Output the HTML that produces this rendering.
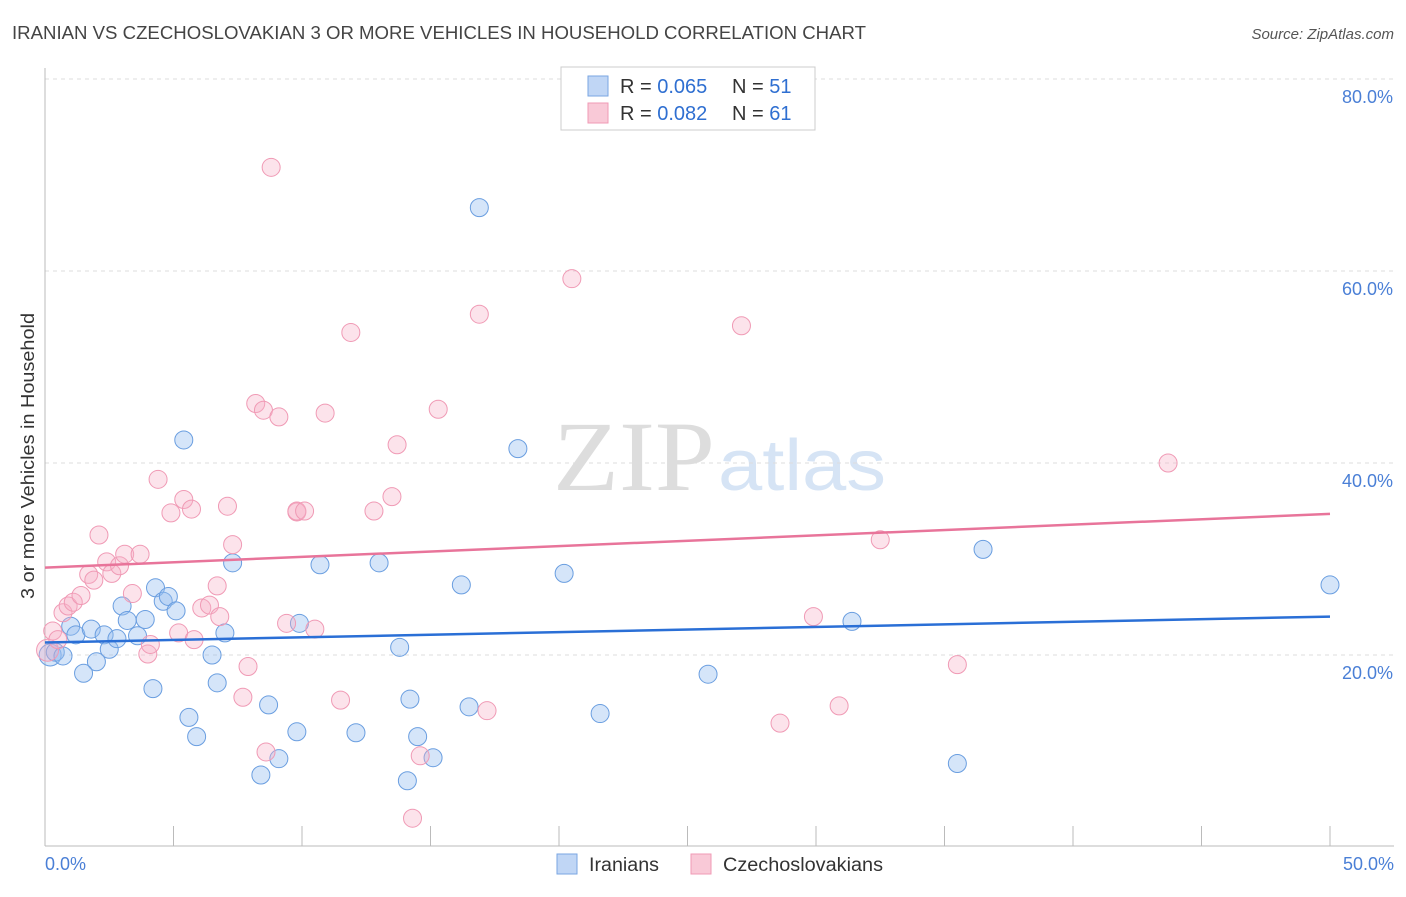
<!DOCTYPE html>
<html><head><meta charset="utf-8"><style>
body{margin:0;background:#fff;font-family:"Liberation Sans",sans-serif;}
svg text{font-family:"Liberation Sans",sans-serif;}
</style></head><body>
<svg id="c" width="1406" height="892" viewBox="0 0 1406 892">
<text x="12" y="39" font-size="18" fill="#444" textLength="854" lengthAdjust="spacingAndGlyphs">IRANIAN VS CZECHOSLOVAKIAN 3 OR MORE VEHICLES IN HOUSEHOLD CORRELATION CHART</text>
<text x="1394" y="39" font-size="15" fill="#555" font-style="italic" text-anchor="end">Source: ZipAtlas.com</text>
<text x="553" y="490" font-size="100" fill="#ddd" textLength="162" lengthAdjust="spacingAndGlyphs" style="font-family:'Liberation Serif',serif">ZIP</text>
<text x="718" y="490" font-size="72" fill="#d6e4f5" textLength="168" lengthAdjust="spacingAndGlyphs">atlas</text>
<g id="grid"></g>
<line x1="45" y1="68" x2="45" y2="846" stroke="#bbb"/>
<line x1="45" y1="846" x2="1394" y2="846" stroke="#bbb"/>
<g id="ticks"></g>
<text transform="translate(34,456) rotate(-90)" font-size="18" fill="#333" text-anchor="middle" textLength="286" lengthAdjust="spacingAndGlyphs">3 or more Vehicles in Household</text>
<text x="45" y="870" font-size="18" fill="#4a7fd6">0.0%</text>
<text x="1394" y="870" font-size="18" fill="#4a7fd6" text-anchor="end">50.0%</text>
<g id="pts"></g>
<g id="trend"></g>
<g>
<rect x="561" y="67" width="254" height="63" fill="#fff" stroke="#ccc"/>
<rect x="588" y="76" width="20" height="20" fill="#c0d6f5" stroke="#7aa6e2"/>
<rect x="588" y="103" width="20" height="20" fill="#f9c9d7" stroke="#f09ab5"/>
<text x="620" y="93" font-size="20" fill="#333">R = <tspan fill="#2f6fd1">0.065</tspan></text>
<text x="732" y="93" font-size="20" fill="#333">N = <tspan fill="#2f6fd1">51</tspan></text>
<text x="620" y="120" font-size="20" fill="#333">R = <tspan fill="#2f6fd1">0.082</tspan></text>
<text x="732" y="120" font-size="20" fill="#333">N = <tspan fill="#2f6fd1">61</tspan></text>
</g>
<g><rect x="557" y="854" width="20" height="20" fill="#c0d6f5" stroke="#7aa6e2"/><text x="589" y="871" font-size="19" fill="#333" textLength="70" lengthAdjust="spacingAndGlyphs">Iranians</text></g>
<g><rect x="691" y="854" width="20" height="20" fill="#f9c9d7" stroke="#f09ab5"/><text x="723" y="871" font-size="19" fill="#333" textLength="160" lengthAdjust="spacingAndGlyphs">Czechoslovakians</text></g>
</svg>
<script>
const yTicks=[20,40,60,80];
const yTickLabels=["20.0%","40.0%","60.0%","80.0%"];
const xTicks=[0,5,10,15,20,25,30,35,40,45,50];
const iranX=[0.2,0.4,0.7,1.0,1.2,1.8,2.0,1.5,2.3,2.5,2.8,3.0,3.2,3.6,3.9,4.2,4.3,4.6,4.8,5.1,5.4,5.6,5.9,6.5,6.7,7.0,7.3,8.7,8.4,9.1,9.8,9.9,10.7,12.1,13.0,13.8,14.2,14.5,14.1,15.1,16.2,16.5,16.9,18.4,20.2,21.6,25.8,31.4,35.5,36.5,50.0];
const iranY=[20.0,20.3,19.9,23.0,22.1,22.7,19.3,18.1,22.1,20.6,21.7,25.1,23.6,22.0,23.7,16.5,27.0,25.6,26.1,24.6,42.4,13.5,11.5,20.0,17.1,22.3,29.6,14.8,7.5,9.2,12.0,23.3,29.4,11.9,29.6,20.8,15.4,11.5,6.9,9.3,27.3,14.6,66.6,41.5,28.5,13.9,18.0,23.5,8.7,31.0,27.3];
const czX=[0.1,0.3,0.5,0.7,0.9,1.1,1.4,1.7,1.9,2.1,2.4,2.6,2.9,3.1,3.4,3.7,4.0,4.1,4.4,4.9,5.2,5.4,5.7,5.8,6.1,6.4,6.7,6.8,7.1,7.3,7.7,7.9,8.2,8.5,8.6,8.8,9.1,9.4,9.8,9.8,10.1,10.5,10.9,11.5,11.9,12.8,13.5,13.7,14.6,14.3,15.3,16.9,17.2,20.5,27.1,28.6,29.9,30.9,32.5,35.5,43.7];
const czY=[20.5,22.5,21.6,24.4,25.1,25.5,26.2,28.4,27.8,32.5,29.7,28.5,29.3,30.5,26.4,30.5,20.1,21.1,38.3,34.8,22.3,36.2,35.2,21.6,24.9,25.2,27.2,24.0,35.5,31.5,15.6,18.8,46.2,45.5,9.9,70.8,44.8,23.3,34.9,35.0,35.0,22.7,45.2,15.3,53.6,35.0,36.5,41.9,9.5,3.0,45.6,55.5,14.2,59.2,54.3,12.9,24.0,14.7,32.0,19.0,40.0];
const trendIran=[[0,21.3],[50,24.0]];
const trendCz=[[0,29.1],[50,34.7]];
const NS="http://www.w3.org/2000/svg";
const X=v=>45+v/50*1285, Y=v=>847-v*9.6;
function mk(t,a,p){const e=document.createElementNS(NS,t);for(const k in a)e.setAttribute(k,a[k]);p.appendChild(e);return e;}
const grid=document.getElementById('grid'),ticks=document.getElementById('ticks'),pts=document.getElementById('pts'),tr=document.getElementById('trend');
yTicks.forEach((v,i)=>{
 const l=mk('line',{x1:45,x2:1394,y1:Y(v),y2:Y(v),stroke:'#ddd','stroke-dasharray':'4,4'},grid);
 
 
 const t=mk('text',{x:1393,y:Y(v)+24,'font-size':18,fill:'#4a7fd6','text-anchor':'end'},grid);
 t.textContent=yTickLabels[i];
 
 
});
xTicks.forEach(v=>{
 const l=mk('line',{x1:X(v),x2:X(v),y1:826,y2:846,stroke:'#bbb'},ticks);
 
 
});
iranX.forEach((v,i)=>{
 const c=mk('circle',{cx:X(v),cy:Y(iranY[i]),r:i==0?11:9,fill:'rgba(150,190,240,0.4)',stroke:'#6a9ee0','stroke-width':1},pts);
 
 
});
czX.forEach((v,i)=>{
 const c=mk('circle',{cx:X(v),cy:Y(czY[i]),r:i==0?11:9,fill:'rgba(246,175,198,0.35)',stroke:'#f09ab5','stroke-width':1},pts);
 
 
});
const a=mk('line',{x1:X(trendIran[0][0]),y1:Y(trendIran[0][1]),x2:X(trendIran[1][0]),y2:Y(trendIran[1][1]),stroke:'#2a6fd6','stroke-width':2.5},tr);


const b=mk('line',{x1:X(trendCz[0][0]),y1:Y(trendCz[0][1]),x2:X(trendCz[1][0]),y2:Y(trendCz[1][1]),stroke:'#e8749a','stroke-width':2.5},tr);


</script>
</body></html>
